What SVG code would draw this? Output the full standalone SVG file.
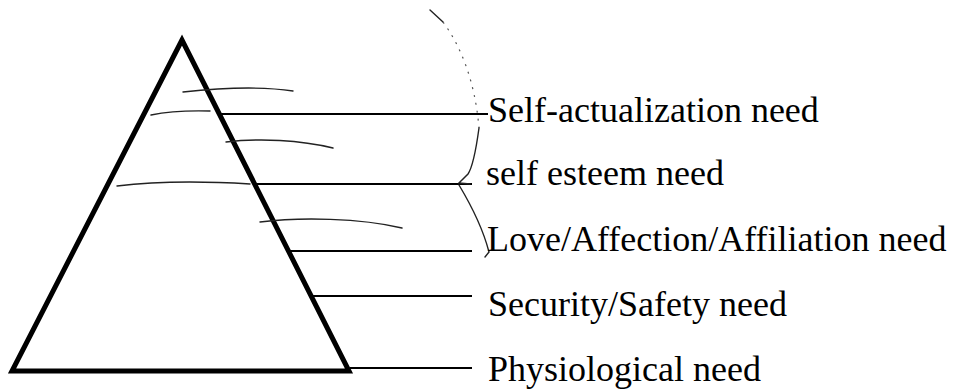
<svg xmlns="http://www.w3.org/2000/svg" width="979" height="389" viewBox="0 0 979 389">
<style>
.lbl{font-family:"Liberation Serif","Times New Roman",serif;font-size:36px;fill:#000}
.ln{stroke:#000;stroke-width:2;fill:none}
.hand{stroke:#222;stroke-width:1.4;fill:none;stroke-linecap:round}
.dot{stroke:#555;stroke-width:1.2;fill:none;stroke-dasharray:2 6}
</style>
<rect width="979" height="389" fill="#fff"/>
<g id="pyramid">
<polygon points="182,40 12,371 349,371" fill="none" stroke="#000" stroke-width="5" stroke-linejoin="miter"/>
</g>
<g id="connectors">
<path class="hand" d="M151,115 Q175,110 210,111"/>
<line class="ln" x1="220" y1="114" x2="488" y2="114"/>
<path class="hand" d="M117,186 C150,182 200,181 250,184"/>
<line class="ln" x1="256" y1="184" x2="472" y2="184"/>
<line class="ln" x1="290" y1="251" x2="472" y2="251"/>
<line class="ln" x1="313" y1="296" x2="472" y2="296"/>
<line class="ln" x1="350" y1="368" x2="472" y2="368"/>
<path class="hand" d="M183,92 C220,88 260,86 293,91"/>
<path class="hand" d="M226,142 C260,138 300,140 333,148"/>
<path class="hand" d="M260,222 C300,217 360,218 402,228"/>
<path class="hand" d="M430,10 L443,22"/>
<path class="dot" d="M443,22 C460,45 475,80 479,128"/>
<path class="hand" d="M479,128 C476,150 472,168 468,174 L459,183 L470,184"/>
<path class="hand" d="M459,185 C468,200 482,225 489,252 L485,257"/>
</g>
<g id="label-self-actualization"><text class="lbl" x="488" y="122">Self-actualization need</text></g>
<g id="label-self-esteem"><text class="lbl" x="486" y="185">self esteem need</text></g>
<g id="label-love"><text class="lbl" x="487" y="251">Love/Affection/Affiliation need</text></g>
<g id="label-security"><text class="lbl" x="488" y="316">Security/Safety need</text></g>
<g id="label-physiological"><text class="lbl" x="488" y="381">Physiological need</text></g>
</svg>
